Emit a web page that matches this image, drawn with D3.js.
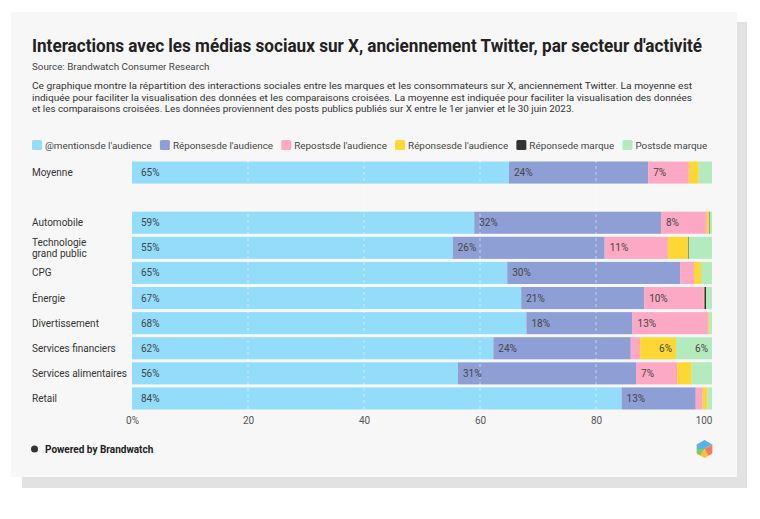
<!DOCTYPE html>
<html>
<head>
<meta charset="utf-8">
<script src="https://cdn.jsdelivr.net/npm/d3@7"></script>
<style>
  body { margin: 0; background: #fff; }
  svg { display: block; font-family: Roboto, "Noto Sans", sans-serif; }
</style>
</head>
<body>
<div id="chart"></div>
<script>
var svgWidth = 760;
var svgHeight = 519;

// Data (percent of interactions)
var categories = ["Moyenne", "_gap", "Automobile", "Technologie grand public", "CPG", "Énergie",
    "Divertissement", "Services financiers", "Services alimentaires", "Retail"];
var seriesNames = ["@mentionsde l'audience", "Réponsesde l'audience", "Repostsde l'audience",
    "Réponsesde l'audience", "Réponsede marque", "Postsde marque"];
var seriesColors = ["#93dcfa", "#8e9fd6", "#fda9c5", "#fdd835", "#333333", "#b3ebbf"];

var mentionsAudience = [65, null, 59, 55.3, 64.7, 67.1, 68, 62.3, 56.2, 84.4];
var reponsesAudience = [24, null, 32.2, 26.2, 29.8, 21.2, 18.3, 23.7, 30.7, 12.8];
var repostsAudience  = [7, null, 7.9, 10.9, 2.4, 10.3, 13, 1.6, 7.1, 1.2];
var reponsesAudience2 = [1.7, null, 0.4, 3.5, 1.2, 0.1, 0.2, 6.2, 2.5, 0.8];
var reponseMarque    = [0, null, 0.1, 0.1, 0, 0.3, 0, 0, 0, 0];
var postsMarque      = [2.3, null, 0.4, 4, 1.9, 1.0, 0.5, 6.2, 3.5, 0.8];

var xTicks = [0, 20, 40, 60, 80, 100];

var titleText = "Interactions avec les médias sociaux sur X, anciennement Twitter, par secteur d'activité";
var sourceText = "Source: Brandwatch Consumer Research";
var descLines = [
    "Ce graphique montre la répartition des interactions sociales entre les marques et les consommateurs sur X, anciennement Twitter. La moyenne est",
    "indiquée pour faciliter la visualisation des données et les comparaisons croisées. La moyenne est indiquée pour faciliter la visualisation des données",
    "et les comparaisons croisées. Les données proviennent des posts publics publiés sur X entre le 1er janvier et le 30 juin 2023."
];
var descWidths = [660, 660, 542];

var allSeries = [mentionsAudience, reponsesAudience, repostsAudience, reponsesAudience2, reponseMarque, postsMarque];

// Build rows for the stack
var rows = categories.map(function (c, i) {
    var row = { name: c };
    allSeries.forEach(function (s, k) { row["s" + k] = s[i] || 0; });
    return row;
}).filter(function (r) { return r.name !== "_gap"; });

var svg = d3.select("#chart").append("svg")
    .attr("width", svgWidth)
    .attr("height", svgHeight);

// Card shadow and card
svg.append("rect").attr("x", 22).attr("y", 22).attr("width", 725).attr("height", 466).attr("fill", "#e2e2e2");
svg.append("rect").attr("x", 11).attr("y", 12).attr("width", 726).attr("height", 465).attr("fill", "#f7f7f7");

// Titles
svg.append("text")
    .attr("x", 32).attr("y", 52)
    .attr("font-size", 18).attr("font-weight", "bold").attr("fill", "#222")
    .attr("textLength", 670).attr("lengthAdjust", "spacingAndGlyphs")
    .text(titleText);

svg.append("text")
    .attr("x", 32).attr("y", 70)
    .attr("font-size", 9.8).attr("fill", "#444")
    .text(sourceText);

svg.selectAll(".desc")
    .data(descLines)
    .enter()
    .append("text")
    .attr("class", "desc")
    .attr("x", 32)
    .attr("y", (d, i) => 89 + i * 11.6)
    .attr("font-size", 9.8).attr("fill", "#333")
    .attr("textLength", (d, i) => descWidths[i])
    .attr("lengthAdjust", "spacingAndGlyphs")
    .text(d => d);

// Legend
var legend = svg.append("g").attr("transform", "translate(32, 140)");
var legendX = 0;
seriesNames.forEach(function (name, k) {
    var item = legend.append("g").attr("transform", `translate(${legendX}, 0)`);
    item.append("rect")
        .attr("width", 10).attr("height", 10).attr("rx", 1.5)
        .attr("fill", seriesColors[k]);
    var t = item.append("text")
        .attr("x", 13).attr("y", 8.5)
        .attr("font-size", 9.85).attr("fill", "#444")
        .text(name);
    legendX += 13 + t.node().getComputedTextLength() + 8.2;
});

// Scales
var xScale = d3.scaleLinear().domain([0, 100]).range([132, 712]);
var yScale = d3.scaleBand()
    .domain(categories)
    .range([160, 411])
    .paddingInner(0.12)
    .paddingOuter(0.06);

var stack = d3.stack().keys(allSeries.map((s, k) => "s" + k));
var stacked = stack(rows);

var barGroup = svg.append("g");
stacked.forEach(function (layer, k) {
    barGroup.selectAll(".bar" + k)
        .data(layer)
        .enter()
        .append("rect")
        .attr("class", "bar" + k)
        .attr("x", d => xScale(d[0]))
        .attr("y", d => yScale(d.data.name))
        .attr("width", d => Math.max(0, xScale(d[1]) - xScale(d[0])))
        .attr("height", yScale.bandwidth())
        .attr("fill", seriesColors[k]);
});

// Gridlines over the bars
svg.append("g").selectAll("line")
    .data(xTicks.filter(d => d > 0 && d < 100))
    .enter()
    .append("line")
    .attr("x1", d => xScale(d)).attr("x2", d => xScale(d))
    .attr("y1", 160).attr("y2", 411)
    .attr("stroke", "#fff").attr("stroke-opacity", 0.5)
    .attr("stroke-dasharray", "3,3");

// Value labels
stacked.forEach(function (layer, k) {
    layer.forEach(function (d) {
        var v = d[1] - d[0];
        if (v < 5) return;
        var w = xScale(d[1]) - xScale(d[0]);
        var narrow = w < 38;
        svg.append("text")
            .attr("x", narrow ? xScale(d[1]) - 4 : xScale(d[0]) + (k === 0 ? 9 : 5))
            .attr("y", yScale(d.data.name) + yScale.bandwidth() / 2)
            .attr("dy", "0.35em")
            .attr("text-anchor", narrow ? "end" : "start")
            .attr("font-size", 10).attr("fill", "#444")
            .text(Math.round(v) + "%");
    });
});

// Row labels
var labelGroup = svg.append("g");
rows.forEach(function (r) {
    var cy = yScale(r.name) + yScale.bandwidth() / 2;
    var lines = r.name === "Technologie grand public" ? ["Technologie", "grand public"] : [r.name];
    var t = labelGroup.append("text")
        .attr("x", 32)
        .attr("y", cy - (lines.length - 1) * 5.7)
        .attr("font-size", 10).attr("fill", "#333");
    lines.forEach(function (l, i) {
        t.append("tspan").attr("x", 32).attr("dy", i === 0 ? "0.35em" : 11.4).text(l);
    });
});

// X axis
var bottomAxis = d3.axisBottom(xScale)
    .tickValues(xTicks)
    .tickSize(0)
    .tickPadding(6)
    .tickFormat(d => d === 0 ? "0%" : d);

var xAxis = svg.append("g")
    .attr("transform", "translate(0, 411)")
    .call(bottomAxis);
xAxis.select(".domain").remove();
xAxis.selectAll("text")
    .attr("font-family", "Roboto, sans-serif")
    .attr("font-size", 10)
    .attr("fill", "#555")
    .attr("text-anchor", d => d === 100 ? "end" : "middle");

// Footer
svg.append("circle").attr("cx", 34.5).attr("cy", 449).attr("r", 3.5).attr("fill", "#333");
svg.append("text")
    .attr("x", 45).attr("y", 452.5)
    .attr("font-size", 10).attr("font-weight", "bold").attr("fill", "#222")
    .text("Powered by Brandwatch");

// Brandwatch logo (hexagon)
var lc = [704.5, 449], lr = 9;
function hv(a) {
    var rad = a * Math.PI / 180;
    return [lc[0] + lr * Math.cos(rad), lc[1] + lr * Math.sin(rad)];
}
function mid(p, q) { return [(p[0] + q[0]) / 2, (p[1] + q[1]) / 2]; }
var vTop = hv(-90), vUR = hv(-30), vLR = hv(30), vBot = hv(90), vLL = hv(150), vUL = hv(210);
var logoParts = [
    { pts: [lc, vUR, vTop, vUL, mid(vUL, vLL)], color: "#58b3e6" },
    { pts: [lc, mid(vUL, vLL), vLL, mid(vLL, vBot)], color: "#8cc857" },
    { pts: [lc, mid(vLL, vBot), vBot, mid(vBot, vLR)], color: "#fbc02d" },
    { pts: [lc, mid(vBot, vLR), vLR, vUR], color: "#f57c5b" }
];
svg.append("g").selectAll("path")
    .data(logoParts)
    .enter()
    .append("path")
    .attr("d", d => "M" + d.pts.map(p => p.join(",")).join("L") + "Z")
    .attr("fill", d => d.color);
</script>
</body>
</html>
